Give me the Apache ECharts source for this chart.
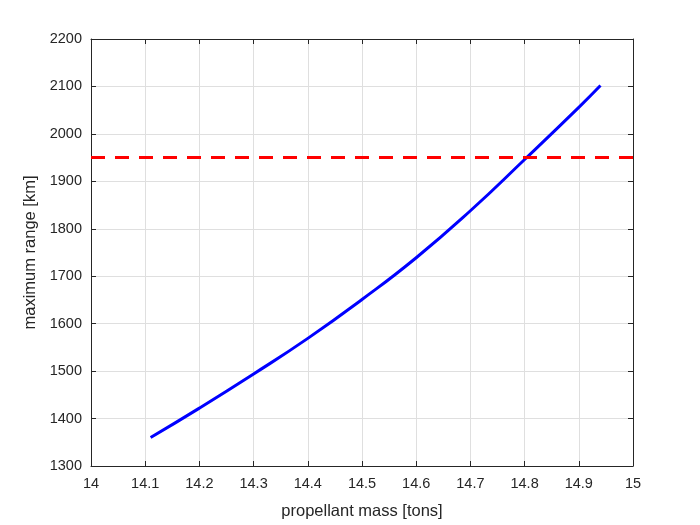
<!DOCTYPE html>
<html>
<head>
<meta charset="utf-8">
<script src="https://cdn.jsdelivr.net/npm/echarts@6/dist/echarts.min.js"></script>
<style>html,body{margin:0;padding:0;background:#fff}#c{width:700px;height:525px}</style>
</head>
<body>
<div id="c"></div>
<script>
const massTons = [14.11, 14.2, 14.3, 14.4, 14.5, 14.6, 14.7, 14.8, 14.9, 14.94];
const rangeKm = [1360, 1422, 1494, 1569, 1651, 1739, 1838, 1946, 2056, 2102];
const limitX = [14, 15];
const limitKm = [1950, 1950];
const xTicks = [14, 14.1, 14.2, 14.3, 14.4, 14.5, 14.6, 14.7, 14.8, 14.9, 15];
const yTicks = [1300, 1400, 1500, 1600, 1700, 1800, 1900, 2000, 2100, 2200];

const chart = echarts.init(document.getElementById('c'));
const txt = '#262626';
const font = '"Liberation Sans", Arial, sans-serif';
const axisCommon = {
  axisLine: { show: true, onZero: false, lineStyle: { color: txt, width: 1 } },
  axisTick: { show: true, inside: true, length: 5, lineStyle: { color: txt } },
};
chart.setOption({
  animation: false,
  backgroundColor: '#fff',
  grid: { left: 91, right: 67, top: 39, bottom: 59, show: false },
  xAxis: [
    Object.assign({
      type: 'value', min: 14, max: 15, interval: 0.1,
      name: 'propellant mass [tons]', nameLocation: 'middle', nameGap: 37,
      nameTextStyle: { color: txt, fontSize: 16.5, fontFamily: font },
      axisLabel: { color: txt, fontSize: 14.5, fontFamily: font, margin: 10,
        formatter: v => { const t = xTicks.find(a => Math.abs(a - v) < 1e-6); return t === undefined ? '' : String(t); } },
      splitLine: { show: true, lineStyle: { color: '#dfdfdf', width: 1 } },
      position: 'bottom'
    }, axisCommon),
    Object.assign({
      type: 'value', min: 14, max: 15, interval: 0.1, position: 'top',
      axisLabel: { show: false }, splitLine: { show: false }
    }, axisCommon)
  ],
  yAxis: [
    Object.assign({
      type: 'value', min: 1300, max: 2200, interval: 100,
      name: 'maximum range [km]', nameLocation: 'middle', nameGap: 51,
      nameTextStyle: { color: txt, fontSize: 16.5, fontFamily: font },
      axisLabel: { color: txt, fontSize: 14.5, fontFamily: font, margin: 9,
        formatter: v => { const t = yTicks.find(a => Math.abs(a - v) < 1e-6); return t === undefined ? '' : String(t); } },
      splitLine: { show: true, lineStyle: { color: '#dfdfdf', width: 1 } },
      position: 'left'
    }, axisCommon),
    Object.assign({
      type: 'value', min: 1300, max: 2200, interval: 100, position: 'right',
      axisLabel: { show: false }, splitLine: { show: false }
    }, axisCommon)
  ],
  series: [
    {
      type: 'line', smooth: true, showSymbol: false,
      data: massTons.map((m, i) => [m, rangeKm[i]]),
      lineStyle: { color: '#0000ff', width: 3 }, z: 3
    },
    {
      type: 'line', showSymbol: false,
      data: limitX.map((m, i) => [m, limitKm[i]]),
      lineStyle: { color: '#ff0000', width: 3, type: [14, 10] }, z: 4
    }
  ]
});
</script>
</body>
</html>
